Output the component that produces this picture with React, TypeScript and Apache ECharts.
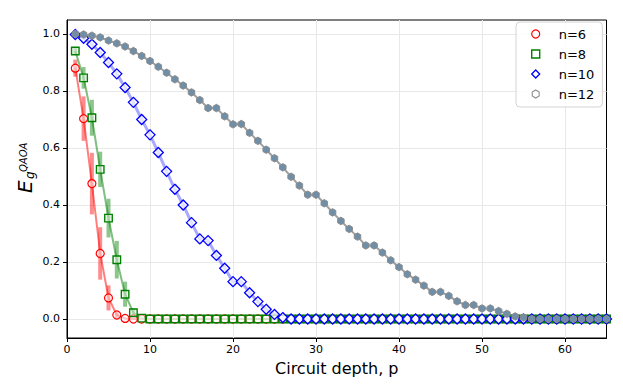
import React, { useEffect, useRef } from "react";
import * as echarts from "echarts";

const depths = [
  1, 2, 3, 4, 5, 6, 7, 8, 9, 10, 11, 12, 13, 14, 15, 16, 17, 18, 19, 20,
  21, 22, 23, 24, 25, 26, 27, 28, 29, 30, 31, 32, 33, 34, 35, 36, 37, 38, 39, 40,
  41, 42, 43, 44, 45, 46, 47, 48, 49, 50, 51, 52, 53, 54, 55, 56, 57, 58, 59, 60,
  61, 62, 63, 64, 65,
];

const n6 = [
  0.88, 0.703, 0.475, 0.23, 0.074, 0.014, 0.002, 0, 0, 0, 0, 0, 0, 0, 0, 0, 0, 0, 0, 0,
  0, 0, 0, 0, 0, 0, 0, 0, 0, 0, 0, 0, 0, 0, 0, 0, 0, 0, 0, 0,
  0, 0, 0, 0, 0, 0, 0, 0, 0, 0, 0, 0, 0, 0, 0, 0, 0, 0, 0, 0,
  0, 0, 0, 0, 0,
];
const n6Err = [0.03, 0.078, 0.108, 0.092, 0.044, 0.012];

const n8 = [
  0.94, 0.846, 0.706, 0.525, 0.354, 0.208, 0.087, 0.022, 0.003, 0, 0, 0, 0, 0, 0, 0, 0, 0, 0, 0,
  0, 0, 0, 0, 0, 0, 0, 0, 0, 0, 0, 0, 0, 0, 0, 0, 0, 0, 0, 0,
  0, 0, 0, 0, 0, 0, 0, 0, 0, 0, 0, 0, 0, 0, 0, 0, 0, 0, 0, 0,
  0, 0, 0, 0, 0,
];
const n8Err = [0.012, 0.038, 0.063, 0.062, 0.068, 0.066, 0.044, 0.015];

const n10 = [
  0.998, 0.985, 0.964, 0.935, 0.9, 0.86, 0.812, 0.76, 0.7, 0.646,
  0.584, 0.518, 0.455, 0.4, 0.338, 0.281, 0.275, 0.223, 0.178, 0.131,
  0.131, 0.092, 0.061, 0.034, 0.016, 0.005, 0, 0, 0, 0,
  0, 0, 0, 0, 0, 0, 0, 0, 0, 0, 0, 0, 0, 0, 0, 0, 0, 0, 0, 0,
  0, 0, 0, 0, 0, 0, 0, 0, 0, 0, 0, 0, 0, 0, 0,
];
const n10Err = [
  0.006, 0.01, 0.012, 0.014, 0.015, 0.016, 0.017, 0.018, 0.018, 0.018,
  0.018, 0.018, 0.018, 0.018, 0.018, 0.018, 0.017, 0.016, 0.016, 0.015,
  0.014, 0.012, 0.01, 0.008, 0.006, 0.004,
];

const n12 = [
  1.0, 0.998, 0.994, 0.988, 0.977, 0.967, 0.956, 0.94, 0.923, 0.905,
  0.885, 0.864, 0.841, 0.819, 0.795, 0.768, 0.74, 0.74, 0.711, 0.683,
  0.684, 0.653, 0.625, 0.594, 0.564, 0.532, 0.499, 0.468, 0.436, 0.436,
  0.406, 0.374, 0.344, 0.316, 0.289, 0.258, 0.258, 0.233, 0.206, 0.182,
  0.157, 0.138, 0.117, 0.095, 0.095, 0.081, 0.062, 0.049, 0.049, 0.037,
  0.037, 0.028, 0.018, 0.009, 0.005, 0, 0, 0, 0, 0,
  0, 0, 0, 0, 0,
];

const xTicks = [0, 10, 20, 30, 40, 50, 60];
const yTicks = [0, 0.2, 0.4, 0.6, 0.8, 1.0];
const seriesNames = ["n=6", "n=8", "n=10", "n=12"];

const FONT = "DejaVu Sans";
const HEX = "path://M0,-10 L8.66,-5 L8.66,5 L0,10 L-8.66,5 L-8.66,-5 Z";

function pairs(vals: number[]) {
  return depths.map((p, i) => [p, vals[i]]);
}
function errTriples(vals: number[], errs: number[]) {
  return errs.map((e, i) => [depths[i], vals[i], e]);
}

function errSeries(vals: number[], errs: number[], color: string, width: number) {
  return {
    type: "custom",
    silent: true,
    data: errTriples(vals, errs),
    encode: { x: 0, y: 1 },
    renderItem: (params: any, api: any) => {
      const x = api.value(0);
      const y = api.value(1);
      const e = api.value(2);
      if (!(e > 0)) return null;
      const top = api.coord([x, y + e]);
      const bot = api.coord([x, y - e]);
      return {
        type: "line",
        shape: { x1: top[0], y1: top[1], x2: bot[0], y2: bot[1] },
        style: { stroke: color, lineWidth: width },
      };
    },
  };
}

export default function App() {
  const ref = useRef<HTMLDivElement>(null);

  useEffect(() => {
    if (!ref.current) return;
    const chart = echarts.init(ref.current, null, { renderer: "svg" });

    const option: any = {
      animation: false,
      backgroundColor: "#ffffff",
      grid: {
        left: 67,
        right: 16.5,
        top: 20,
        bottom: 51,
        show: true,
        borderColor: "#000",
        borderWidth: 1,
        backgroundColor: "transparent",
      },
      xAxis: {
        type: "value",
        min: 0,
        max: 65,
        name: "Circuit depth, p",
        nameLocation: "middle",
        nameGap: 22,
        nameTextStyle: { fontFamily: FONT, fontSize: 16, color: "#000" },
        axisLine: { show: true, onZero: false, lineStyle: { color: "#000", width: 1 } },
        axisTick: {
          show: true,
          inside: false,
          length: 4,
          customValues: xTicks,
          lineStyle: { color: "#000", width: 1 },
        },
        axisLabel: {
          customValues: xTicks,
          margin: 6,
          fontFamily: FONT,
          fontSize: 11,
          color: "#000",
        },
        splitLine: { show: true, lineStyle: { color: "#e8e8e8", width: 1 } },
      },
      yAxis: {
        type: "value",
        min: -0.0667,
        max: 1.049,
        axisLine: { show: true, onZero: false, lineStyle: { color: "#000", width: 1 } },
        axisTick: {
          show: true,
          inside: false,
          length: 4,
          customValues: yTicks,
          lineStyle: { color: "#000", width: 1 },
        },
        axisLabel: {
          customValues: yTicks,
          margin: 7,
          fontFamily: FONT,
          fontSize: 11,
          color: "#000",
          formatter: (v: number) => v.toFixed(1),
        },
        splitLine: { show: true, lineStyle: { color: "#e8e8e8", width: 1 } },
      },
      legend: {
        orient: "vertical",
        left: 516,
        top: 22,
        padding: [5, 8, 6, 15],
        itemWidth: 8,
        itemHeight: 8,
        itemGap: 6,
        backgroundColor: "rgba(255,255,255,0.85)",
        borderColor: "#d4d4d4",
        borderWidth: 1,
        borderRadius: 4,
        selectedMode: false,
        textStyle: {
          fontFamily: FONT,
          fontSize: 13,
          color: "#000",
          lineHeight: 14,
          padding: [0, 0, 0, 14],
        },
        data: [
          {
            name: seriesNames[0],
            icon: "circle",
            itemStyle: { color: "rgba(0,0,0,0)", borderColor: "#ff0000", borderWidth: 1.2 },
          },
          {
            name: seriesNames[1],
            icon: "rect",
            itemStyle: { color: "rgba(0,0,0,0)", borderColor: "#008000", borderWidth: 1.4 },
          },
          {
            name: seriesNames[2],
            icon: "diamond",
            itemStyle: { color: "rgba(0,0,0,0)", borderColor: "#0000ff", borderWidth: 1.3 },
          },
          {
            name: seriesNames[3],
            icon: HEX,
            itemStyle: { color: "rgba(0,0,0,0)", borderColor: "#8c8c8c", borderWidth: 1.1 },
          },
        ],
      },
      graphic: [
        {
          type: "group",
          x: 31,
          y: 193,
          rotation: Math.PI / 2,
          silent: true,
          children: [
            {
              type: "text",
              x: 0,
              y: 4,
              style: {
                text: "E",
                font: `italic 20px '${FONT}'`,
                fill: "#000",
                align: "left",
                verticalAlign: "bottom",
              },
            },
            {
              type: "text",
              x: 14,
              y: 5,
              style: {
                text: "g",
                font: `italic 12px '${FONT}'`,
                fill: "#000",
                align: "left",
                verticalAlign: "bottom",
              },
            },
            {
              type: "text",
              x: 21,
              y: -3,
              style: {
                text: "QAOA",
                font: `italic 10px '${FONT}'`,
                fill: "#000",
                align: "left",
                verticalAlign: "bottom",
              },
            },
          ],
        },
      ],
      series: [
        errSeries(n6, n6Err, "rgba(255,0,0,0.45)", 4),
        {
          name: seriesNames[0],
          type: "line",
          silent: true,
          data: pairs(n6),
          symbol: "circle",
          symbolSize: 8,
          showAllSymbol: true,
          lineStyle: { color: "rgba(255,0,0,0.5)", width: 2 },
          itemStyle: { color: "rgba(255,255,255,0.5)", borderColor: "#ff0000", borderWidth: 1.2 },
        },
        errSeries(n8, n8Err, "rgba(0,128,0,0.45)", 4),
        {
          name: seriesNames[1],
          type: "line",
          silent: true,
          data: pairs(n8),
          symbol: "rect",
          symbolSize: 7.5,
          showAllSymbol: true,
          lineStyle: { color: "rgba(0,128,0,0.5)", width: 2 },
          itemStyle: { color: "rgba(255,255,255,0.5)", borderColor: "#008000", borderWidth: 1.4 },
        },
        errSeries(n10, n10Err, "rgba(60,60,255,0.25)", 4),
        {
          name: seriesNames[2],
          type: "line",
          silent: true,
          data: pairs(n10),
          symbol: "diamond",
          symbolSize: 10,
          showAllSymbol: true,
          lineStyle: { color: "rgba(40,40,255,0.4)", width: 3 },
          itemStyle: { color: "rgba(255,255,255,0.75)", borderColor: "#0000ff", borderWidth: 1.3 },
        },
        {
          name: seriesNames[3],
          type: "line",
          silent: true,
          data: pairs(n12),
          symbol: HEX,
          symbolSize: 7.5,
          symbolKeepAspect: true,
          showAllSymbol: true,
          lineStyle: { color: "#a0a0a0", width: 2 },
          itemStyle: { color: "#6f8ea8", borderColor: "#8c8c8c", borderWidth: 1 },
        },
      ],
    };

    chart.setOption(option);
    return () => chart.dispose();
  }, []);

  return <div ref={ref} style={{ width: 623, height: 389, position: "absolute", left: 0, top: 0 }} />;
}
